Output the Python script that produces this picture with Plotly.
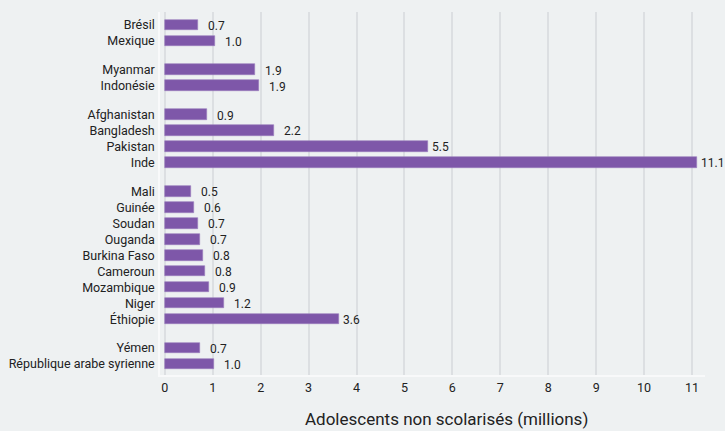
import plotly.graph_objects as go

# Groups of countries, top to bottom
groups = [
    ["Brésil", "Mexique"],
    ["Myanmar", "Indonésie"],
    ["Afghanistan", "Bangladesh", "Pakistan", "Inde"],
    ["Mali", "Guinée", "Soudan", "Ouganda", "Burkina Faso", "Cameroun",
     "Mozambique", "Niger", "Éthiopie"],
    ["Yémen", "République arabe syrienne"],
]

# Out-of-school adolescents (millions)
values = [0.70, 1.04,
          1.89, 1.97,
          0.89, 2.27, 5.50, 11.10,
          0.55, 0.61, 0.70, 0.73, 0.80, 0.83, 0.92, 1.23, 3.64,
          0.73, 1.02]
value_labels = ["0.7", "1.0",
                "1.9", "1.9",
                "0.9", "2.2", "5.5", "11.1",
                "0.5", "0.6", "0.7", "0.7", "0.8", "0.8", "0.9", "1.2", "3.6",
                "0.7", "1.0"]

x_ticks = list(range(0, 12))
x_title = "Adolescents non scolarisés (millions)"

# bar positions: one unit per bar, extra gap between groups
group_gap = 1.8
countries = []
positions = []
pos = 0.0
for gi, grp in enumerate(groups):
    if gi > 0:
        pos += group_gap - 1
    for name in grp:
        countries.append(name)
        positions.append(pos)
        pos += 1
last = positions[-1]

font_family = "Roboto, sans-serif"
bg = "#eef1f2"
purple = "#7e57a9"

fig = go.Figure(
    go.Bar(
        x=values,
        y=positions,
        orientation="h",
        width=0.66,
        marker=dict(color=purple, line=dict(color="#9b7dbd", width=0.6)),
        hoverinfo="skip",
        showlegend=False,
    )
)

# value labels sit a little further out on the short bars
for v, p, lab in zip(values, positions, value_labels):
    fig.add_annotation(
        x=v, y=p, text=lab, showarrow=False,
        xanchor="left", yanchor="middle",
        xshift=9 if v < 3 else 3, yshift=-1, borderpad=0,
        font=dict(family=font_family, size=12, color="#222"),
    )

# axis title, slightly right of the plot centre as in the original
fig.add_annotation(
    text=x_title, xref="paper", yref="paper", x=0.525, y=0,
    xanchor="center", yanchor="middle", yshift=-44, showarrow=False,
    font=dict(family=font_family, size=17, color="#222"),
)

fig.update_layout(
    width=725,
    height=431,
    paper_bgcolor=bg,
    plot_bgcolor=bg,
    margin=dict(l=160, r=20, t=12, b=56, autoexpand=False),
    font=dict(family=font_family, size=13, color="#222"),
    bargap=0,
)

fig.update_xaxes(
    range=[-0.1, 11.27],
    tickvals=x_ticks,
    ticktext=[str(t) for t in x_ticks],
    showgrid=True,
    gridcolor="#dcdfe2",
    gridwidth=1.5,
    zeroline=False,
    showline=True,
    linecolor="#f8f9fa",
    linewidth=1.5,
    ticks="",
    tickfont=dict(size=12.5, color="#222"),
)

fig.update_yaxes(
    range=[last + 0.69, -0.81],
    tickvals=positions,
    ticktext=countries,
    showgrid=False,
    zeroline=False,
    showline=True,
    linecolor="#f8f9fa",
    linewidth=1.5,
    ticks="",
    ticklabelstandoff=1,
    tickfont=dict(size=12.5, color="#222"),
)

fig.write_html("out.html", config={"displayModeBar": False},
               post_script="document.body.style.margin='0';")
